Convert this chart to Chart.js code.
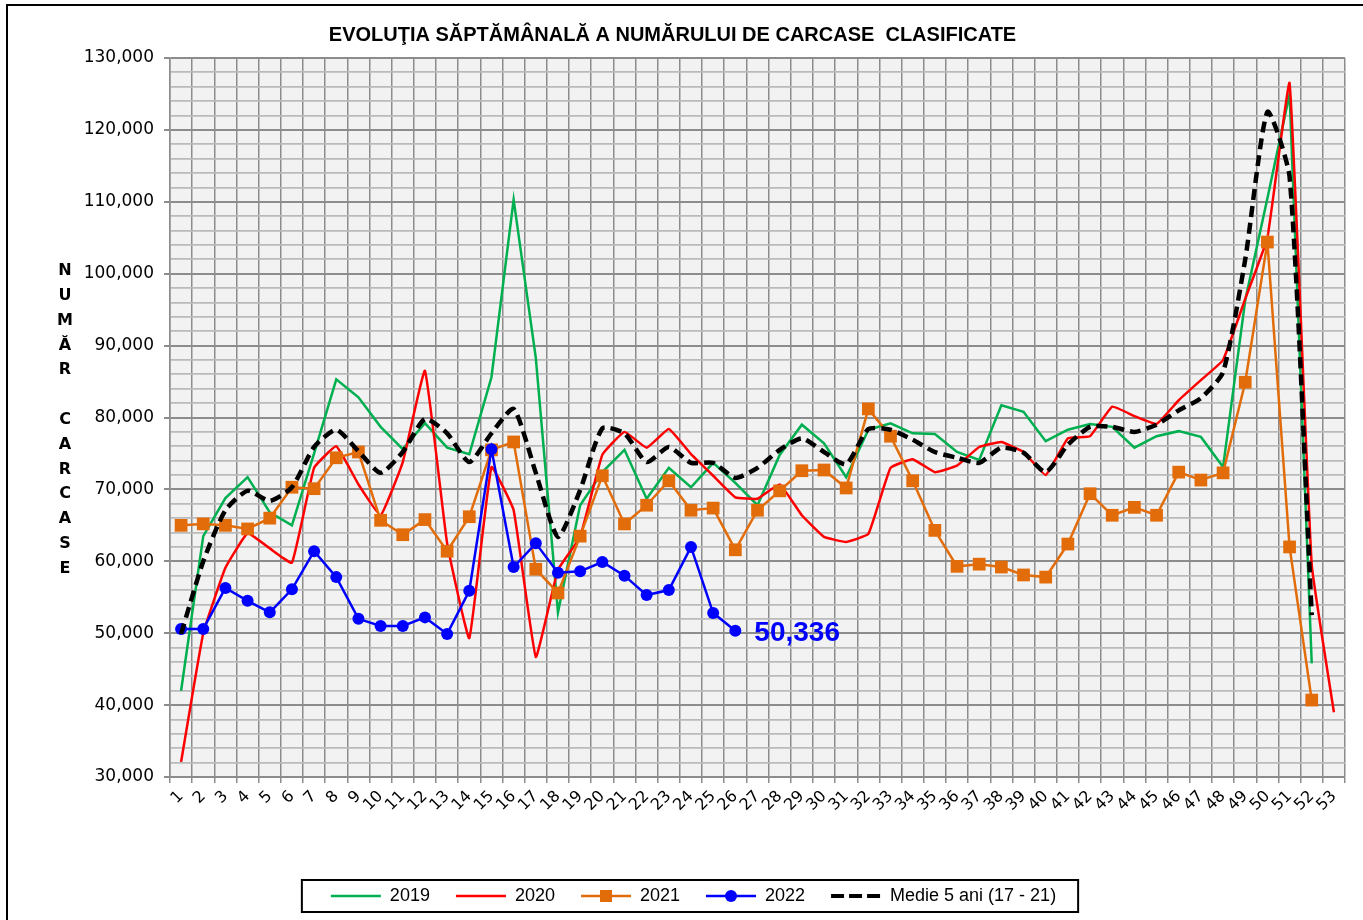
<!DOCTYPE html>
<html>
<head>
<meta charset="utf-8">
<title>Evolutia saptamanala a numarului de carcase clasificate</title>
<script src="https://cdn.jsdelivr.net/npm/chart.js@4.4.1/dist/chart.umd.min.js"></script>
<style>
    html, body { margin: 0; padding: 0; background: #fff; }
    #wrap { width: 1363px; height: 920px; }
</style>
</head>
<body>
<div id="wrap"><canvas id="canvas_carcase" width="1363" height="920"></canvas></div>
<script>
var weeks = [];
for (var w = 1; w <= 53; w++) weeks.push(String(w));

var y2019 = [42000, 63500, 68800, 71700, 66800, 65000, 75000, 85300, 82800, 78700,
    75600, 79200, 75800, 74900, 85600, 110300, 88300, 52900, 67800, 72400,
    75500, 68700, 73000, 70300, 73700, 70900, 67800, 74800, 79000, 76400,
    71700, 78300, 79200, 77800, 77700, 75200, 74100, 81700, 80800, 76700,
    78300, 79100, 78700, 75800, 77400, 78100, 77300, 73100, 96300, 110500,
    125000, 45800, null];
var y2020 = [32100, 50000, 59100, 63900, 61800, 59800, 73000, 76000, 70700, 66400,
    73800, 86500, 62500, 49300, 73100, 67100, 46700, 58800, 63400, 74800,
    78000, 75800, 78400, 74900, 71900, 68900, 68700, 70700, 66400, 63400,
    62700, 63800, 73000, 74200, 72400, 73300, 75900, 76600, 75200, 72000,
    77100, 77400, 81500, 80200, 79100, 82400, 85200, 88000, 96500, 105000,
    126500, 59500, 39000];
var y2021 = [65000, 65200, 65000, 64500, 66000, 70300, 70100, 74400, 75200, 65700,
    63700, 65800, 61400, 66200, 75500, 76600, 58900, 55600, 63500, 71900,
    65200, 67800, 71200, 67100, 67400, 61600, 67100, 69800, 72600, 72700,
    70200, 81200, 77400, 71200, 64300, 59300, 59600, 59200, 58100, 57800,
    62400, 69400, 66400, 67500, 66400, 72400, 71300, 72300, 84900, 104400,
    62000, 40700, null];
var y2022 = [50600, 50600, 56300, 54500, 52900, 56100, 61400, 57800, 52000, 51000,
    51000, 52200, 49900, 55900, 75600, 59200, 62500, 58400, 58600, 59900,
    58000, 55300, 56000, 62000, 52800, 50336];
var medie5 = [49900, 60000, 67100, 69800, 68400, 70300, 75900, 78300, 75300, 72300,
    75200, 79800, 77800, 73800, 77800, 81200, 72300, 63400, 69900, 78500,
    77800, 73800, 75900, 73700, 73700, 71600, 73000, 75500, 77100, 75200,
    73500, 78400, 78300, 76900, 75200, 74400, 73700, 75800, 75100, 72400,
    76200, 78700, 78700, 78000, 79000, 81000, 82700, 86300, 102000, 122500,
    113500, 52500, null];

var yTicksMin = 30000, yTicksMax = 130000, yMajor = 10000, yMinor = 2000;
var yTitle = ['N', 'U', 'M', 'Ă', 'R', '', 'C', 'A', 'R', 'C', 'A', 'S', 'E'];

var GREEN = '#00b050', RED = '#ff0000', ORANGE = '#e36c0a', BLUE = '#0000ff';
var GRID_DARK = '#8c8c8c', GRID_LIGHT = '#bababa';

Chart.defaults.font.family = '"Liberation Sans", Arial, sans-serif';
Chart.defaults.color = '#000';

// small line+marker pictures for the legend
function legendIcon(color, width, dash, marker) {
    var c = document.createElement('canvas');
    c.width = 52; c.height = 16;
    var ctx = c.getContext('2d');
    ctx.strokeStyle = color;
    ctx.lineWidth = width;
    ctx.setLineDash(dash || []);
    ctx.beginPath(); ctx.moveTo(1, 8); ctx.lineTo(51, 8); ctx.stroke();
    ctx.setLineDash([]);
    ctx.fillStyle = color;
    if (marker == 'rect') ctx.fillRect(20, 2, 12, 12);
    if (marker == 'circle') { ctx.beginPath(); ctx.arc(26, 8, 6, 0, Math.PI * 2); ctx.fill(); }
    return c;
}
var icons = [
    legendIcon(GREEN, 2.5),
    legendIcon(RED, 2.5),
    legendIcon(ORANGE, 2.5, null, 'rect'),
    legendIcon(BLUE, 2.5, null, 'circle'),
    legendIcon('#000', 4, [13, 5])
];

var isMajor = function (ctx) {
    return ctx.tick && ctx.tick.value % yMajor === 0;
};

var extras = {
    id: 'extras',
    beforeDraw(chart) {
        var a = chart.chartArea, ctx = chart.ctx;
        ctx.save();
        ctx.fillStyle = '#f2f2f2';
        ctx.fillRect(a.left, a.top, a.right - a.left, a.bottom - a.top);
        // outer frame
        ctx.strokeStyle = '#000';
        ctx.lineWidth = 2;
        ctx.beginPath();
        ctx.moveTo(7, 920); ctx.lineTo(7, 5); ctx.lineTo(1363, 5);
        ctx.stroke();
        ctx.restore();
    },
    afterLayout(chart) {
        chart.legend.left += 21;
        chart.legend.right += 21;
    },
    afterDraw(chart) {
        var ctx = chart.ctx, a = chart.chartArea;
        ctx.save();
        // stacked y axis title
        ctx.font = 'bold 16px "DejaVu Sans", sans-serif';
        ctx.fillStyle = '#000';
        ctx.textAlign = 'center';
        ctx.textBaseline = 'middle';
        yTitle.forEach((ch, i) => {
            var y = a.top + 213 + i * 24.8;
            ctx.fillText(ch, 65, y);
        });
        // last value of 2022
        var meta = chart.getDatasetMeta(3);
        var pt = meta.data[meta.data.length - 1];
        ctx.font = 'bold 28px "Liberation Sans", Arial, sans-serif';
        ctx.fillStyle = BLUE;
        ctx.textAlign = 'left';
        ctx.fillText(y2022[y2022.length - 1].toLocaleString('en-US'), pt.x + 19, pt.y + 2);
        // legend frame
        var lg = chart.legend;
        var pad = lg.options.labels.padding;
        var start = (lg.left + pad + lg.right - lg.lineWidths[0]) / 2;
        var end = start + lg.lineWidths[0] - pad;
        var cy = lg.top + pad + lg.options.labels.font.size / 2;
        ctx.strokeStyle = '#000';
        ctx.lineWidth = 2;
        ctx.strokeRect(start - 29, cy - 16, end - start + 51, 32);
        ctx.restore();
    }
};

var chart = new Chart('canvas_carcase', {
    type: 'line',
    data: {
        labels: weeks,
        datasets: [{
            label: '2019', data: y2019, borderColor: GREEN, backgroundColor: GREEN,
            borderWidth: 2.5, pointRadius: 0, tension: 0, order: 5
        }, {
            label: '2020', data: y2020, borderColor: RED, backgroundColor: RED,
            borderWidth: 2.5, pointRadius: 0, tension: 0.1, order: 4
        }, {
            label: '2021', data: y2021, borderColor: ORANGE, backgroundColor: ORANGE,
            borderWidth: 2.5, pointStyle: 'rect', pointRadius: 9, pointBorderWidth: 0, tension: 0, order: 3
        }, {
            label: '2022', data: y2022, borderColor: BLUE, backgroundColor: BLUE,
            borderWidth: 2.5, pointRadius: 6, pointBorderWidth: 0, tension: 0, order: 2
        }, {
            label: 'Medie 5 ani (17 - 21)', data: medie5, borderColor: '#000', backgroundColor: '#000',
            borderWidth: 4.5, borderDash: [11, 6], pointRadius: 0, tension: 0.2, order: 1
        }]
    },
    options: {
        responsive: false,
        animation: false,
        layout: { padding: { left: 0, right: 18, top: 0, bottom: 5 } },
        plugins: {
            tooltip: { enabled: false },
            title: {
                display: true,
                text: 'EVOLUŢIA SĂPTĂMÂNALĂ A NUMĂRULUI DE CARCASE  CLASIFICATE',
                font: { size: 20, weight: 'bold' },
                color: '#000',
                padding: { top: 23, bottom: 11 }
            },
            legend: {
                position: 'bottom',
                labels: {
                    usePointStyle: true,
                    pointStyleWidth: 50,
                    padding: 26,
                    font: { size: 18 },
                    color: '#000',
                    generateLabels: function (chart) {
                        return chart.data.datasets.map((ds, i) => ({
                            text: ds.label,
                            pointStyle: icons[i],
                            fillStyle: ds.borderColor,
                            strokeStyle: ds.borderColor,
                            lineWidth: 0,
                            hidden: false,
                            datasetIndex: i
                        }));
                    }
                }
            }
        },
        scales: {
            x: {
                offset: true,
                grid: { offset: true, color: GRID_DARK, lineWidth: 1.5, tickLength: 6, tickColor: GRID_DARK },
                border: { color: GRID_DARK, width: 1.5 },
                ticks: {
                    autoSkip: false, minRotation: 45, maxRotation: 45, padding: 4,
                    font: { family: '"DejaVu Sans", sans-serif', size: 16 }
                },
                afterFit: function (scale) { scale.height = 84; }
            },
            y: {
                min: yTicksMin,
                max: yTicksMax,
                grid: {
                    color: ctx => isMajor(ctx) ? GRID_DARK : GRID_LIGHT,
                    lineWidth: ctx => isMajor(ctx) ? 2 : 1.8,
                    tickLength: 6,
                    tickColor: ctx => isMajor(ctx) ? GRID_DARK : 'rgba(0,0,0,0)'
                },
                border: { color: GRID_DARK, width: 1.5 },
                ticks: {
                    stepSize: yMinor,
                    maxTicksLimit: 60,
                    autoSkip: false,
                    padding: 10,
                    font: { family: '"DejaVu Sans", sans-serif', size: 17 },
                    callback: v => v % yMajor === 0 ? v.toLocaleString('en-US') : ''
                },
                afterFit: function (scale) { scale.width = 170; }
            }
        }
    },
    plugins: [extras]
});
</script>
</body>
</html>
